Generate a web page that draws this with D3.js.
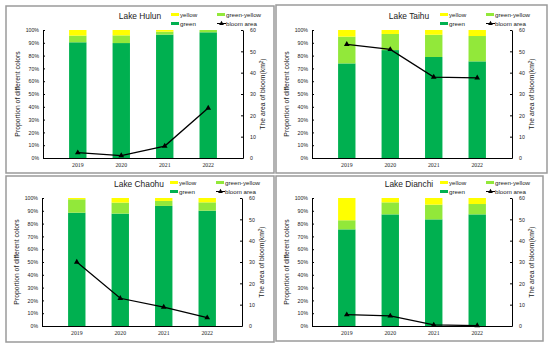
<!DOCTYPE html>
<html><head><meta charset="utf-8">
<script src="https://cdn.jsdelivr.net/npm/d3@7"></script>
<style>body{margin:0;background:#fff}svg{display:block;font-family:"Liberation Sans",Arial,sans-serif}</style>
</head><body><svg id="c" width="550" height="349"></svg>
<script>
const years = ["2019","2020","2021","2022"];
const lakes = ["Lake Hulun","Lake Taihu","Lake Chaohu","Lake Dianchi"];
const greenVals = [
  [90.4, 89.8, 96.4, 98.2],
  [73.9, 84.3, 78.9, 75.5],
  [88.5, 87.8, 93.8, 90.1],
  [75.5, 87.2, 83.3, 87.2]
];
const greenYellowVals = [
  [5.2, 6.0, 2.3, 1.8],
  [20.9, 12.6, 17.4, 19.8],
  [10.5, 8.6, 3.9, 6.5],
  [7.1, 9.4, 11.5, 8.1]
];
const yellowVals = greenVals.map((g,i)=>g.map((v,j)=>+(100 - v - greenYellowVals[i][j]).toFixed(1)));
const bloomArea = [
  [2.5, 1.1, 5.6, 23.4],
  [53.3, 50.9, 37.9, 37.6],
  [30.0, 13.0, 8.9, 3.9],
  [5.3, 4.7, 0.5, 0.2]
];
const leftTicks = [0,10,20,30,40,50,60,70,80,90,100];
const rightTicks = [0,10,20,30,40,50,60];

const colors = {green:"#00b050", gy:"#92e83a", yellow:"#ffff00"};
const svg = d3.select("#c");

const frames = [
  {x:6,y:6,w:268,h:167},
  {x:276,y:5,w:271,h:168},
  {x:6,y:176,w:268,h:166},
  {x:276,y:176,w:267,h:165}
];
const plots = [
  {l:43,r:243,t:30,b:158},
  {l:312,r:512,t:30,b:158},
  {l:42,r:242,t:198,b:326},
  {l:312,r:512,t:198,b:326}
];

frames.forEach(f=>{
  svg.append("rect").attr("x",f.x).attr("y",f.y).attr("width",f.w).attr("height",f.h)
    .attr("fill","none").attr("stroke","#9a9a9a").attr("stroke-width",1.5);
});

lakes.forEach((name,i)=>{
  const p = plots[i];
  const g = svg.append("g");
  const x = d3.scaleBand().domain(years).range([p.l,p.r]).padding(0.6);
  const yL = d3.scaleLinear().domain([0,100]).range([p.b,p.t]);
  const yR = d3.scaleLinear().domain([0,60]).range([p.b,p.t]);

  const rows = years.map((yr,j)=>({yr, green:greenVals[i][j], gy:greenYellowVals[i][j], yellow:yellowVals[i][j]}));
  const stack = d3.stack().keys(["green","gy","yellow"])(rows);
  stack.forEach(s=>{
    g.selectAll(null).data(s).enter().append("rect")
      .attr("x",d=>x(d.data.yr)).attr("width",x.bandwidth())
      .attr("y",d=>yL(d[1])).attr("height",d=>Math.max(0,yL(d[0])-yL(d[1])))
      .attr("fill",colors[s.key]);
  });

  const axL = g.append("g").attr("transform",`translate(${p.l},0)`)
    .call(d3.axisLeft(yL).tickValues(leftTicks).tickFormat(d=>d+"%").tickSizeInner(-2).tickSizeOuter(0).tickPadding(4));
  const axR = g.append("g").attr("transform",`translate(${p.r},0)`)
    .call(d3.axisRight(yR).tickValues(rightTicks).tickSizeInner(-2).tickSizeOuter(0).tickPadding(7));
  const axB = g.append("g").attr("transform",`translate(0,${p.b})`)
    .call(d3.axisBottom(x).tickSize(0).tickPadding(5));
  [axL,axR,axB].forEach(a=>{
    a.select(".domain").attr("stroke","#000").attr("stroke-width",1);
    a.selectAll("line").attr("stroke","#000");
    a.selectAll("text").attr("font-size",5.2).attr("fill","#222").attr("font-family","Liberation Sans, Arial");
  });
  axB.selectAll("text").attr("font-family","Liberation Serif, Times New Roman").attr("font-size",5.8);

  const line = d3.line().x((d,j)=>x(years[j])+x.bandwidth()/2).y(d=>yR(d));
  g.append("path").datum(bloomArea[i]).attr("d",line).attr("fill","none").attr("stroke","#000").attr("stroke-width",1.3);
  const tri = d3.symbol().type(d3.symbolTriangle).size(14);
  g.selectAll(null).data(bloomArea[i]).enter().append("path")
    .attr("d",tri).attr("transform",(d,j)=>`translate(${x(years[j])+x.bandwidth()/2},${yR(d)})`).attr("fill","#000");

  const midY = (p.t+p.b)/2;
  g.append("text").attr("transform",`translate(${p.l-23},${midY}) rotate(-90)`)
    .attr("text-anchor","middle").attr("font-size",6.8).attr("fill","#222").text("Proportion of different colors");
  const rt = g.append("text").attr("transform",`translate(${p.r+22},${midY}) rotate(-90)`)
    .attr("text-anchor","middle").attr("font-size",6.8).attr("fill","#222");
  rt.append("tspan").text("The  area of bloom(km");
  rt.append("tspan").attr("font-size",4.5).attr("dy",-2).text("2");
  rt.append("tspan").attr("dy",2).text(")");

  g.append("text").attr("x",p.l+97).attr("y",p.t-11.5).attr("text-anchor","middle")
    .attr("font-size",8.4).attr("fill","#222").text(name);

  const lx1 = p.l+128, lx2 = p.l+174, ly1 = p.t-15.5, ly2 = p.t-6.5;
  const leg = [
    {x:lx1,y:ly1,c:colors.yellow,t:"yellow"},
    {x:lx2,y:ly1,c:colors.gy,t:"green-yellow"},
    {x:lx1,y:ly2,c:colors.green,t:"green"}
  ];
  leg.forEach(L=>{
    g.append("rect").attr("x",L.x).attr("y",L.y-1.5).attr("width",8).attr("height",3).attr("fill",L.c);
    g.append("text").attr("x",L.x+9).attr("y",L.y+2.2).attr("font-size",6.2).attr("fill","#222").text(L.t);
  });
  g.append("line").attr("x1",lx2).attr("x2",lx2+9).attr("y1",ly2).attr("y2",ly2).attr("stroke","#000").attr("stroke-width",1);
  g.append("path").attr("d",d3.symbol().type(d3.symbolTriangle).size(10)).attr("transform",`translate(${lx2+4.5},${ly2})`);
  g.append("text").attr("x",lx2+9).attr("y",ly2+2.2).attr("font-size",6.2).attr("fill","#222").text("bloom area");
});
</script></body></html>
